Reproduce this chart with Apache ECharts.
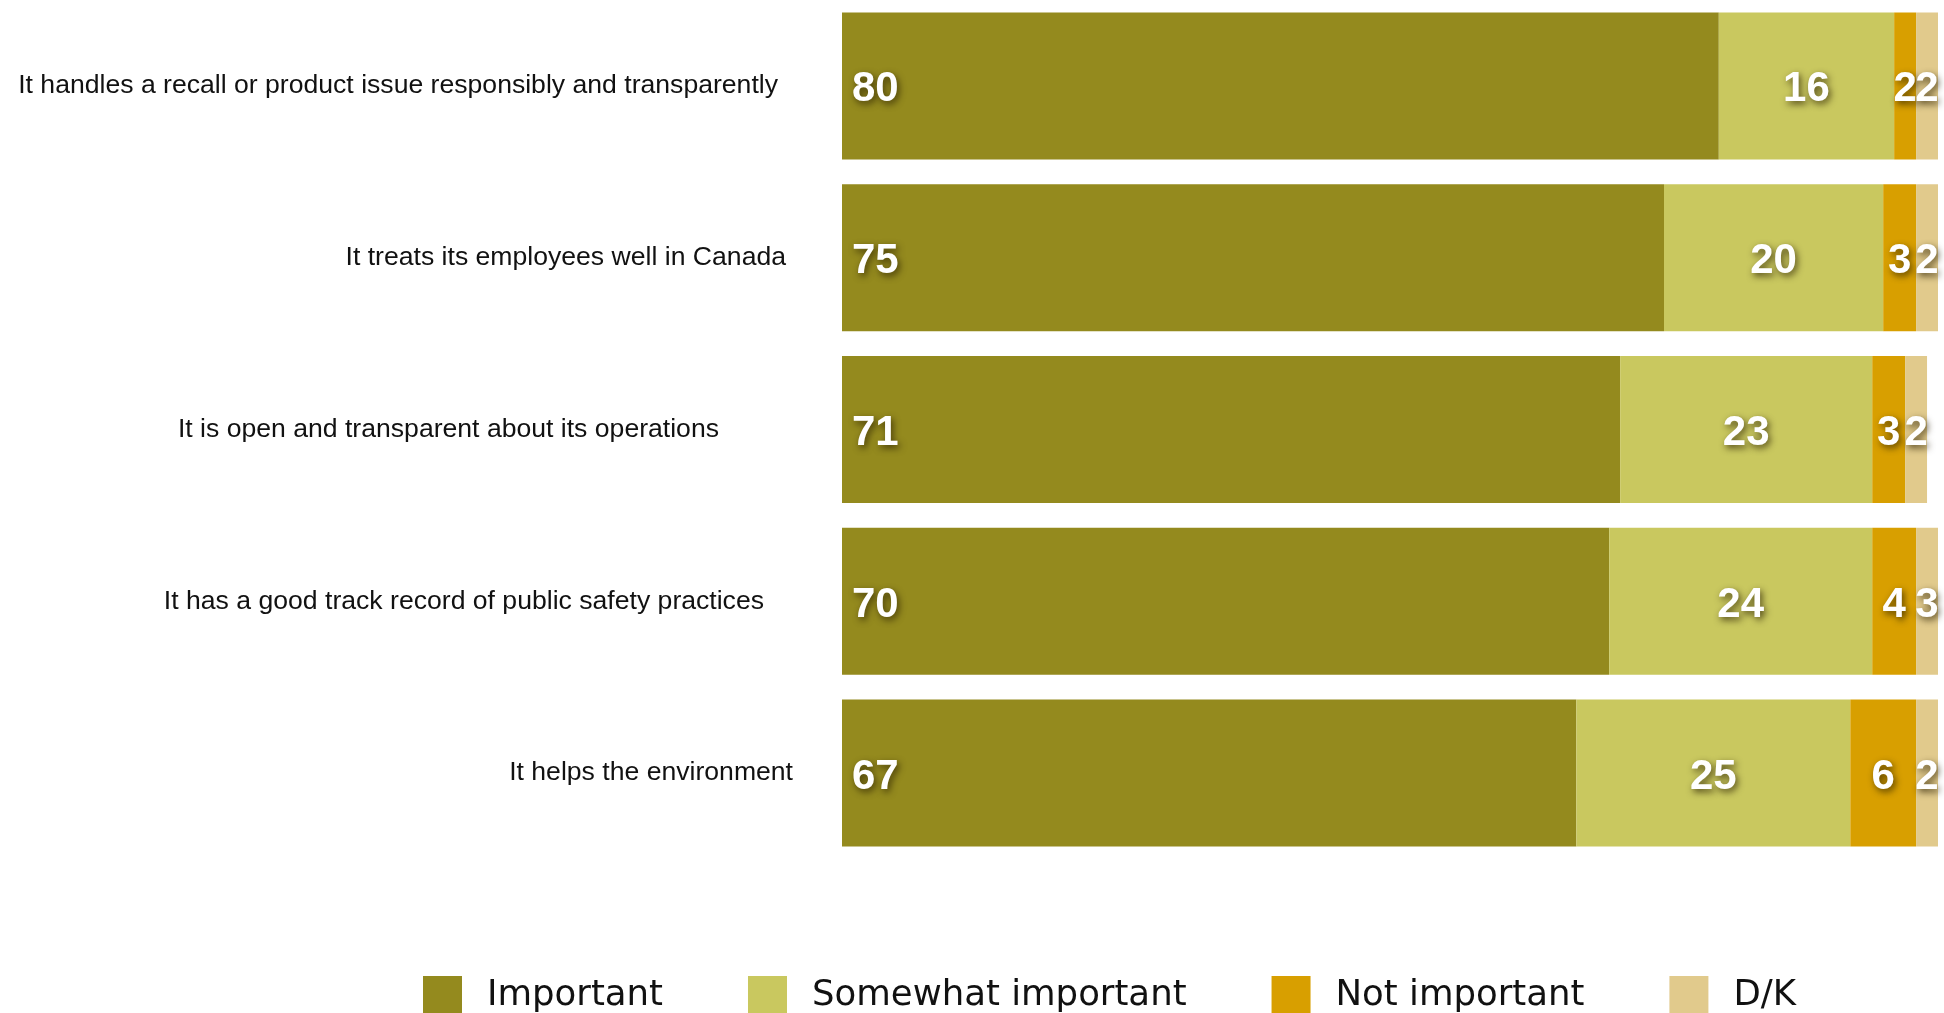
<!DOCTYPE html>
<html>
<head>
<meta charset="utf-8">
<title>Importance of company attributes</title>
<script src="https://cdn.jsdelivr.net/npm/echarts@6/dist/echarts.min.js"></script>
<style>
  html, body { margin: 0; padding: 0; background: #ffffff; }
  #chart { width: 1944px; height: 1013px; }
</style>
</head>
<body>
<div id="chart"></div>
<script>
// Survey statements (top to bottom)
const statements = [
  'It handles a recall or product issue responsibly and transparently',
  'It treats its employees well in Canada',
  'It is open and transparent about its operations',
  'It has a good track record of public safety practices',
  'It helps the environment'
];

// Shares of respondents, in percent
const important         = [80, 75, 71, 70, 67];
const somewhatImportant = [16, 20, 23, 24, 25];
const notImportant      = [2, 3, 3, 4, 6];
const dontKnow          = [2, 2, 2, 3, 2];

const seriesNames = ['Important', 'Somewhat important', 'Not important', 'D/K'];
const seriesColors = ['#948A1E', '#C9C85F', '#D89F00', '#E1CA8C'];

// Extra right padding for each statement label, in px
const labelShift = [15, 7, 74, 29, 0];

const valueLabel = {
  show: true,
  color: '#ffffff',
  fontFamily: '"Liberation Sans", Arial, Helvetica, sans-serif',
  fontWeight: 'bold',
  fontSize: 42,
  offset: [0, 4],
  textShadowColor: 'rgba(40, 30, 0, 0.75)',
  textShadowBlur: 7,
  textShadowOffsetX: 2,
  textShadowOffsetY: 3
};

function makeSeries(name, values, color, first) {
  return {
    name: name,
    type: 'bar',
    stack: 'total',
    clip: true,
    barWidth: 147,
    itemStyle: { color: color },
    label: Object.assign({}, valueLabel, first
      ? { position: 'insideLeft', distance: 10 }
      : { position: 'inside' }),
    emphasis: { disabled: true },
    data: values
  };
}

const chart = echarts.init(document.getElementById('chart'), null, { renderer: 'canvas' });

chart.setOption({
  animation: false,
  backgroundColor: '#ffffff',
  grid: { left: 842, right: 6, top: -5, height: 864, containLabel: false },
  xAxis: {
    type: 'value',
    min: 0,
    max: 100,
    show: false
  },
  yAxis: {
    type: 'category',
    inverse: true,
    data: statements.map((s, i) => ({
      value: s,
      textStyle: { padding: [0, labelShift[i], 0, 0] }
    })),
    axisLine: { show: false },
    axisTick: { show: false },
    splitLine: { show: false },
    axisLabel: {
      margin: 49,
      align: 'right',
      color: '#111111',
      fontFamily: '"Liberation Sans", Arial, Helvetica, sans-serif',
      fontSize: 26.6
    }
  },
  legend: {
    left: 423,
    top: 976,
    padding: 0,
    itemWidth: 39,
    itemHeight: 39,
    itemGap: 85,
    icon: 'rect',
    data: seriesNames,
    textStyle: {
      color: '#111111',
      fontFamily: '"DejaVu Sans", sans-serif',
      fontSize: 35.5,
      padding: [0, 0, 0, 20]
    }
  },
  series: [
    makeSeries(seriesNames[0], important, seriesColors[0], true),
    makeSeries(seriesNames[1], somewhatImportant, seriesColors[1], false),
    makeSeries(seriesNames[2], notImportant, seriesColors[2], false),
    makeSeries(seriesNames[3], dontKnow, seriesColors[3], false)
  ]
});
</script>
</body>
</html>
